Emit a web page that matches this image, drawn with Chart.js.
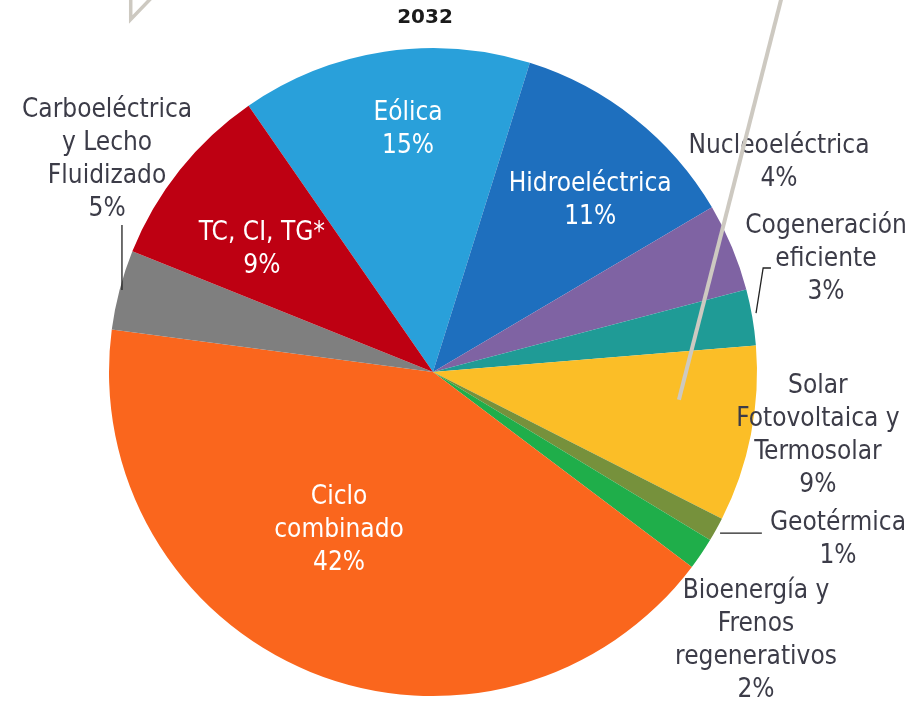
<!DOCTYPE html>
<html><head><meta charset="utf-8">
<script src="https://cdn.jsdelivr.net/npm/chart.js@4.4.1/dist/chart.umd.min.js"></script>
<style>html,body{margin:0;padding:0;background:#fff;overflow:hidden}</style>
</head><body>
<canvas id="c" width="920" height="701"></canvas>
<script>
// ---- data ----
const chartTitle = "2032";
const categories = ["Eólica","Hidroeléctrica","Nucleoeléctrica","Cogeneración eficiente","Solar Fotovoltaica y Termosolar","Geotérmica","Bioenergía y Frenos regenerativos","Ciclo combinado","Carboeléctrica y Lecho Fluidizado","TC, CI, TG*"];
const shares = [14.5, 11.7, 4.4, 2.8, 8.8, 1.2, 1.6, 41.9, 4.0, 9.3];
const percentLabels = ["15%","11%","4%","3%","9%","1%","2%","42%","5%","9%"];
const labelLines = [["Eólica"],["Hidroeléctrica"],["Nucleoeléctrica"],["Cogeneración","eficiente"],["Solar","Fotovoltaica y","Termosolar"],["Geotérmica"],["Bioenergía y","Frenos","regenerativos"],["Ciclo","combinado"],["Carboeléctrica","y Lecho","Fluidizado"],["TC, CI, TG*"]];

// ---- styles ----
const colors = ["#29a0da","#1e6fbe","#7f63a3","#1f9b96","#fbbe27","#76913c","#1fae4a","#fa661d","#7f7f7f","#be0012"];
const insideLabel = [true,true,false,false,false,false,false,true,false,true];
// label block centre, in units of the pie radius from the pie centre
const labelPlace = [[-0.077,-0.747],[0.485,-0.528],[1.068,-0.645],[1.213,-0.349],[1.188,0.198],[1.25,0.519],[0.997,0.830],[-0.290,0.488],[-1.006,-0.654],[-0.528,-0.377]];
// leader lines, in radius units from centre
const leaders = {3:[[0.997,-0.182],[1.019,-0.321],[1.043,-0.321]],5:[[0.886,0.497],[1.015,0.497]],8:[[-0.960,-0.454],[-0.960,-0.253]]};
const FONT = '26px "DejaVu Sans Condensed", "DejaVu Sans", sans-serif';
const LINE_H = 33;

const labelPlugin = {
  id: 'labels',
  afterDraw(chart) {
    const ctx = chart.ctx;
    const arc0 = chart.getDatasetMeta(0).data[0];
    const cx = arc0.x, cy = arc0.y, R = arc0.outerRadius;
    ctx.save();
    // title
    ctx.font = 'bold 20px "DejaVu Sans", sans-serif';
    ctx.fillStyle = '#1a1a1a';
    ctx.textAlign = 'center';
    ctx.textBaseline = 'middle';
    ctx.fillText(chartTitle, cx - 8, 18);
    // leaders
    ctx.strokeStyle = '#222';
    ctx.lineWidth = 1.3;
    Object.keys(leaders).forEach(k => {
      const pts = leaders[k];
      ctx.beginPath();
      pts.forEach((p, i) => {
        const x = cx + p[0]*R, y = cy + p[1]*R;
        if (i === 0) ctx.moveTo(x, y); else ctx.lineTo(x, y);
      });
      ctx.stroke();
    });
    // labels
    ctx.font = FONT;
    categories.forEach((c, i) => {
      const lines = labelLines[i].concat([percentLabels[i]]);
      const bx = cx + labelPlace[i][0]*R;
      const by = cy + labelPlace[i][1]*R;
      ctx.fillStyle = insideLabel[i] ? '#ffffff' : '#3c3c48';
      const top = by - (lines.length - 1) * LINE_H / 2;
      lines.forEach((t, j) => ctx.fillText(t, bx, top + j*LINE_H));
    });
    // decorative grey strokes from the source figure
    ctx.strokeStyle = '#cdc9c1';
    ctx.lineWidth = 4;
    ctx.lineCap = 'butt';
    ctx.beginPath();
    ctx.moveTo(cx + 1.077*R, cy - 1.16*R);
    ctx.lineTo(cx + 0.759*R, cy + 0.086*R);
    ctx.stroke();
    ctx.lineWidth = 3.5;
    ctx.beginPath();
    ctx.moveTo(cx - 0.933*R, cy - 1.16*R);
    ctx.lineTo(cx - 0.933*R, cy - 1.088*R);
    ctx.lineTo(cx - 0.864*R, cy - 1.16*R);
    ctx.stroke();
    ctx.restore();
  }
};

new Chart(document.getElementById('c'), {
  type: 'pie',
  data: {
    labels: categories,
    datasets: [{ data: shares, backgroundColor: colors, borderWidth: 0 }]
  },
  options: {
    responsive: false,
    animation: false,
    devicePixelRatio: 1,
    rotation: -34.7,
    layout: { padding: { top: 48, bottom: 5, left: 109, right: 163 } },
    plugins: { legend: { display: false }, tooltip: { enabled: false }, title: { display: false } }
  },
  plugins: [labelPlugin]
});
</script>
</body></html>
